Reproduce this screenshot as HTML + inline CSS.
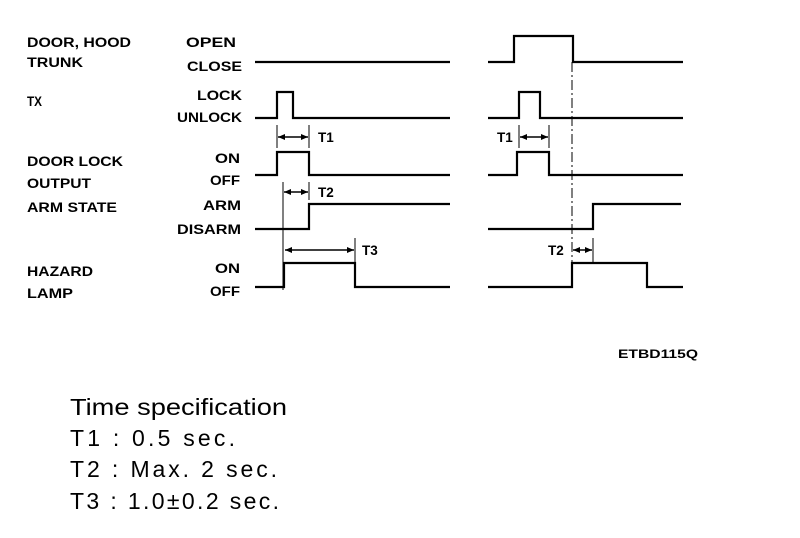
<!DOCTYPE html>
<html><head><meta charset="utf-8"><style>
html,body{margin:0;padding:0;background:#fff;}
svg{display:block}
.b{font-family:"Liberation Sans",Arial,sans-serif;font-weight:bold;font-size:13.5px;fill:#000}
.n{font-family:"Liberation Sans",Arial,sans-serif;font-size:23px;fill:#000}
</style></head><body>
<svg width="800" height="538" viewBox="0 0 800 538" xmlns="http://www.w3.org/2000/svg">
<defs>
<marker id="a" markerWidth="8" markerHeight="8" refX="7" refY="4" orient="auto-start-reverse" markerUnits="userSpaceOnUse">
<path d="M0,1 L7,4 L0,7 Z" fill="#000"/></marker>
</defs>
<g class="b" lengthAdjust="spacingAndGlyphs">
<text x="27" y="47" textLength="104" lengthAdjust="spacingAndGlyphs">DOOR, HOOD</text>
<text x="27" y="67" textLength="56" lengthAdjust="spacingAndGlyphs">TRUNK</text>
<text x="27" y="106" textLength="15" lengthAdjust="spacingAndGlyphs">TX</text>
<text x="27" y="166" textLength="96" lengthAdjust="spacingAndGlyphs">DOOR LOCK</text>
<text x="27" y="188" textLength="64" lengthAdjust="spacingAndGlyphs">OUTPUT</text>
<text x="27" y="212" textLength="90" lengthAdjust="spacingAndGlyphs">ARM STATE</text>
<text x="27" y="276" textLength="66" lengthAdjust="spacingAndGlyphs">HAZARD</text>
<text x="27" y="298" textLength="46" lengthAdjust="spacingAndGlyphs">LAMP</text>
<text x="186" y="47" textLength="50" lengthAdjust="spacingAndGlyphs">OPEN</text>
<text x="187" y="71" textLength="55" lengthAdjust="spacingAndGlyphs">CLOSE</text>
<text x="197" y="100" textLength="45" lengthAdjust="spacingAndGlyphs">LOCK</text>
<text x="177" y="122" textLength="65" lengthAdjust="spacingAndGlyphs">UNLOCK</text>
<text x="215" y="163" textLength="25" lengthAdjust="spacingAndGlyphs">ON</text>
<text x="210" y="185" textLength="30" lengthAdjust="spacingAndGlyphs">OFF</text>
<text x="203" y="210" textLength="38" lengthAdjust="spacingAndGlyphs">ARM</text>
<text x="177" y="234" textLength="64" lengthAdjust="spacingAndGlyphs">DISARM</text>
<text x="215" y="273" textLength="25" lengthAdjust="spacingAndGlyphs">ON</text>
<text x="210" y="296" textLength="30" lengthAdjust="spacingAndGlyphs">OFF</text>
<text x="318" y="142">T1</text>
<text x="318" y="197">T2</text>
<text x="362" y="255">T3</text>
<text x="497" y="142">T1</text>
<text x="548" y="255">T2</text>
<text x="618" y="358" style="font-size:12px" textLength="80" lengthAdjust="spacingAndGlyphs">ETBD115Q</text>
</g>
<g fill="none" stroke="#000" stroke-width="2.2">
<path d="M255,62 H450"/>
<path d="M255,118 H277 V92 H293 V118 H450"/>
<path d="M255,175 H277 V152 H309 V175 H450"/>
<path d="M255,229 H309 V204 H450"/>
<path d="M255,287 H284 V263 H355 V287 H450"/>
<path d="M488,62 H514 V36 H573 V62 H683"/>
<path d="M488,118 H519 V92 H540 V118 H683"/>
<path d="M488,175 H517 V152 H549 V175 H683"/>
<path d="M488,229 H593 V204 H681"/>
<path d="M488,287 H572 V263 H647 V287 H683"/>
</g>
<g fill="none" stroke="#000" stroke-width="1">
<path d="M277,125 V148 M309,125 V148"/>
<path d="M283,182 V290 M309,182 V200"/>
<path d="M355,238 V262"/>
<path d="M519,125 V148 M549,125 V148"/>
<path d="M572,62 V263" stroke-dasharray="10,3,2,3"/>
<path d="M593,238 V262"/>
</g>
<g stroke="#000" stroke-width="1.5" marker-start="url(#a)" marker-end="url(#a)">
<line x1="278" y1="137" x2="308" y2="137"/>
<line x1="284" y1="192" x2="308" y2="192"/>
<line x1="285" y1="250" x2="354" y2="250"/>
<line x1="520" y1="137" x2="548" y2="137"/>
<line x1="573" y1="250" x2="592" y2="250"/>
</g>
<g class="n">
<text x="70" y="415" textLength="217" lengthAdjust="spacingAndGlyphs">Time specification</text>
<text x="70" y="446" textLength="165" lengthAdjust="spacing">T1 :  0.5 sec.</text>
<text x="70" y="477" textLength="207" lengthAdjust="spacing">T2 :  Max.  2 sec.</text>
<text x="70" y="509" textLength="209" lengthAdjust="spacing">T3 :  1.0±0.2 sec.</text>
</g>
</svg>
</body></html>
